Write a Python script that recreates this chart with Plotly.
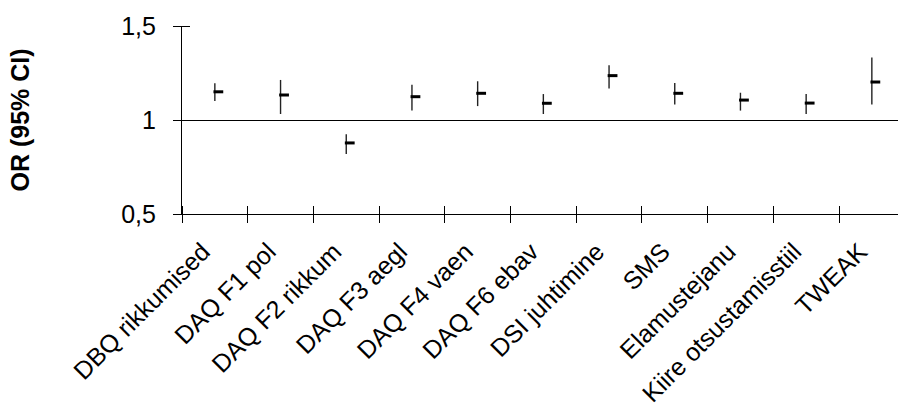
import plotly.graph_objects as go

categories = ["DBQ rikkumised", "DAQ F1 pol", "DAQ F2 rikkum", "DAQ F3 aegl", "DAQ F4 vaen",
              "DAQ F6 ebav", "DSI juhtimine", "SMS", "Elamustejanu", "Kiire otsustamisstiil", "TWEAK"]
or_est = [1.150, 1.133, 0.878, 1.124, 1.142, 1.089, 1.236, 1.142, 1.106, 1.090, 1.202]
ci_low = [1.101, 1.032, 0.819, 1.050, 1.074, 1.032, 1.167, 1.083, 1.050, 1.032, 1.083]
ci_high = [1.195, 1.213, 0.924, 1.188, 1.206, 1.138, 1.291, 1.197, 1.145, 1.138, 1.333]
y_ticks = [0.5, 1.0, 1.5]
y_ticktext = ["0,5", "1", "1,5"]

W, H = 898, 414
ML, MR, MT, MB = 182, 0, 26, 200
cat_px = 65.7
x_lo = -0.5
x_hi = x_lo + (W - ML - MR) / cat_px
close_off = 3.5 / cat_px

idx = list(range(len(categories)))
boundaries = [i - 0.5 for i in range(len(categories) + 1)]

fig = go.Figure()
fig.add_trace(go.Scatter(
    x=idx, y=or_est, mode="markers",
    marker=dict(size=1, color="rgba(0,0,0,0)"),
    error_y=dict(type="data", symmetric=False,
                 array=[h - c for h, c in zip(ci_high, or_est)],
                 arrayminus=[c - l for c, l in zip(or_est, ci_low)],
                 width=0, thickness=1.4, color="#222"),
    showlegend=False, hoverinfo="skip",
))
fig.add_trace(go.Scatter(
    x=[i + close_off for i in idx], y=or_est, mode="markers", xaxis="x2",
    marker=dict(symbol="line-ew", size=7, line=dict(width=3, color="black")),
    showlegend=False,
))

font = dict(family="Liberation Sans, Arial, sans-serif", color="black")
fig.update_layout(
    width=W, height=H,
    margin=dict(l=ML, r=MR, t=MT, b=MB, pad=0, autoexpand=False),
    paper_bgcolor="white", plot_bgcolor="white",
    font=dict(**font, size=24),
    showlegend=False,
    xaxis=dict(
        range=[x_lo, x_hi], tickmode="array", tickvals=idx, ticktext=categories,
        tickangle=-45, ticks="", showgrid=False, zeroline=False, automargin=False,
        showline=True, linecolor="black", linewidth=1.2,
        tickfont=dict(**font, size=25), ticklabelstandoff=12, ticklabelshift=-12,
    ),
    xaxis2=dict(
        range=[x_lo, x_hi], overlaying="x", anchor="y", side="bottom",
        tickmode="array", tickvals=boundaries, showticklabels=False, automargin=False,
        ticks="outside", ticklen=8, tickwidth=1.2, tickcolor="black",
        minor=dict(tickmode="array", tickvals=boundaries, ticks="inside",
                   ticklen=8, tickwidth=1.2, tickcolor="black", showgrid=False),
        showgrid=False, zeroline=False, showline=False,
    ),
    yaxis=dict(
        range=[0.5, 1.5], tickmode="array", tickvals=y_ticks, ticktext=y_ticktext,
        ticks="outside", ticklen=8, tickwidth=1.2, tickcolor="black", automargin=False,
        minor=dict(tickmode="array", tickvals=y_ticks, ticks="inside",
                   ticklen=8, tickwidth=1.2, tickcolor="black", showgrid=False),
        showgrid=True, gridcolor="black", gridwidth=1.2, zeroline=False,
        showline=True, linecolor="black", linewidth=1.2,
        tickfont=dict(**font, size=25), ticklabelstandoff=12,
        title=dict(text="<b>OR (95% CI)</b>", font=dict(**font, size=25), standoff=84),
    ),
)

fig.write_html("out.html")
